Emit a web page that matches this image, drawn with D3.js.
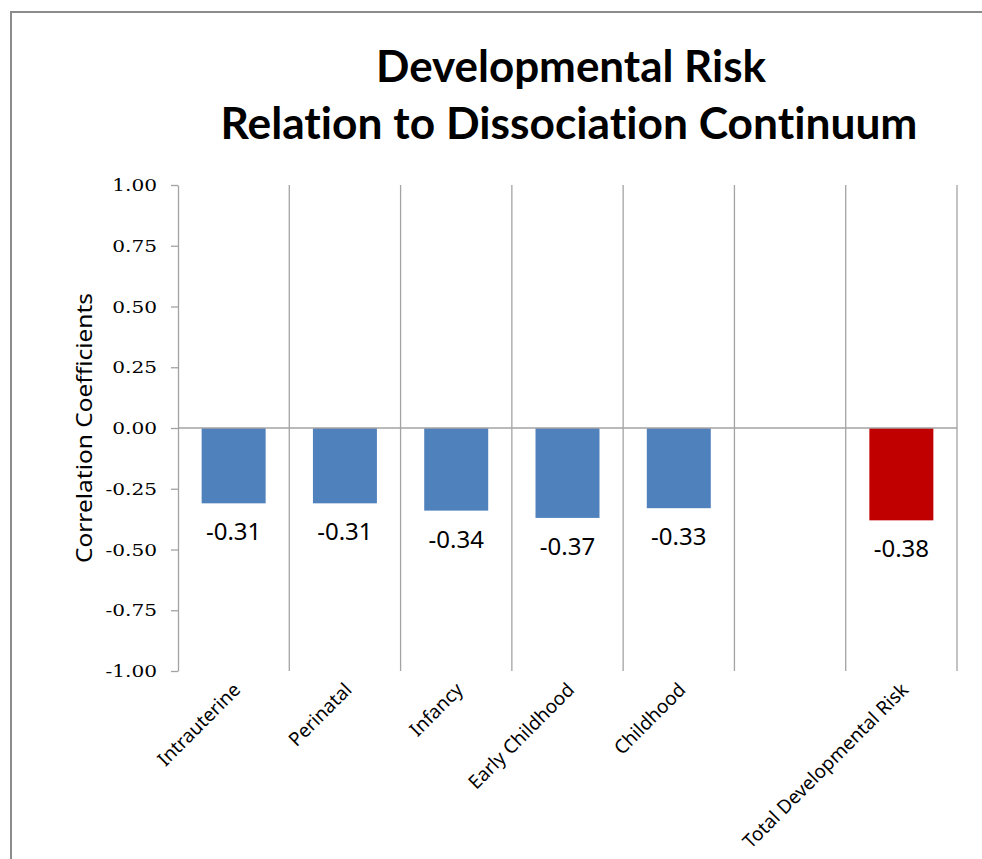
<!DOCTYPE html>
<html>
<head>
<meta charset="utf-8">
<script src="https://cdn.jsdelivr.net/npm/d3@7"></script>
<style>
  html, body { margin: 0; padding: 0; background: #fff; }
  svg { display: block; }
  text { font-variant-ligatures: none; }
</style>
</head>
<body>
<svg id="chart" width="982" height="859"></svg>
<script>
// Chart content
const titleLines = ["Developmental Risk", "Relation to Dissociation Continuum"];
const yAxisTitle = "Correlation Coefficients";
const categories = ["Intrauterine", "Perinatal", "Infancy", "Early Childhood", "Childhood", "", "Total Developmental Risk"];
const values = [-0.31, -0.31, -0.34, -0.37, -0.33, null, -0.38];
const barColors = ["#4f81bd", "#4f81bd", "#4f81bd", "#4f81bd", "#4f81bd", null, "#c00000"];
const yTicks = [1.00, 0.75, 0.50, 0.25, 0.00, -0.25, -0.50, -0.75, -1.00];

const svg = d3.select("#chart");
const fmt = d3.formatLocale({ decimal: ".", thousands: ",", grouping: [3], currency: ["", ""], minus: "-" }).format(".2f");
const sans = "'Noto Sans', 'Open Sans', sans-serif";

// outer frame of the chart area (runs past the right and bottom edges)
svg.append("rect")
  .attr("x", 11).attr("y", 12)
  .attr("width", 1000).attr("height", 900)
  .attr("fill", "none")
  .attr("stroke", "#8c8c8c")
  .attr("stroke-width", 2);

const plot = { left: 178, right: 957, top: 185, bottom: 671 };
const gridColor = "#a3a3a3";

const x = d3.scaleBand()
  .domain(d3.range(categories.length))
  .range([plot.left, plot.right])
  .paddingInner(0.425)
  .paddingOuter(0.2125);

const y = d3.scaleLinear()
  .domain([-1, 1])
  .range([plot.bottom, plot.top]);

// title
const title = svg.append("g")
  .attr("font-family", "Lato, 'Open Sans', sans-serif")
  .attr("font-weight", "bold")
  .attr("fill", "#000");
const titleSpecs = [
  { text: titleLines[0], cx: 571, baseline: 82, width: 390 },
  { text: titleLines[1], cx: 569, baseline: 139, width: 697 }
];
titleSpecs.forEach(t => {
  title.append("text")
    .attr("x", t.cx).attr("y", t.baseline)
    .attr("text-anchor", "middle")
    .attr("font-size", 44)
    .attr("textLength", t.width)
    .attr("lengthAdjust", "spacingAndGlyphs")
    .text(t.text);
});

// vertical grid lines at category boundaries
const step = x.step();
const bounds = d3.range(categories.length + 1).map(i => plot.left + i * step);
svg.append("g")
  .selectAll("line")
  .data(bounds.slice(1))
  .join("line")
  .attr("x1", d => d).attr("x2", d => d)
  .attr("y1", plot.top).attr("y2", plot.bottom)
  .attr("stroke", gridColor)
  .attr("stroke-width", 1.3);

// bars
svg.append("g")
  .selectAll("rect")
  .data(values.map((v, i) => ({ v, i })).filter(d => d.v !== null))
  .join("rect")
  .attr("x", d => x(d.i))
  .attr("width", x.bandwidth())
  .attr("y", d => y(Math.max(0, d.v)))
  .attr("height", d => Math.abs(y(d.v) - y(0)))
  .attr("fill", d => barColors[d.i]);

// zero line
svg.append("line")
  .attr("x1", plot.left).attr("x2", plot.right)
  .attr("y1", y(0)).attr("y2", y(0))
  .attr("stroke", gridColor)
  .attr("stroke-width", 1.3);

// y axis
const yAxis = svg.append("g")
  .attr("transform", `translate(${plot.left},0)`)
  .call(d3.axisLeft(y).tickValues(yTicks).tickFormat(fmt).tickSize(7).tickSizeOuter(0).tickPadding(14));
yAxis.select(".domain").attr("stroke", gridColor).attr("stroke-width", 1.3);
yAxis.selectAll(".tick line").attr("stroke", gridColor).attr("stroke-width", 1.3);
yAxis.selectAll(".tick text")
  .attr("font-family", "'DejaVu Serif', serif")
  .attr("font-size", 17.5)
  .attr("fill", "#000")
  .each(function () {
    const natural = this.getComputedTextLength();
    d3.select(this).attr("textLength", natural * 1.15).attr("lengthAdjust", "spacingAndGlyphs");
  });

// y axis title
svg.append("text")
  .attr("transform", `translate(92,${y(0)}) rotate(-90)`)
  .attr("text-anchor", "middle")
  .attr("font-family", sans)
  .attr("font-size", 22)
  .attr("textLength", 270)
  .attr("lengthAdjust", "spacingAndGlyphs")
  .attr("fill", "#000")
  .text(yAxisTitle);

// value labels below bars
svg.append("g")
  .selectAll("text")
  .data(values.map((v, i) => ({ v, i })).filter(d => d.v !== null))
  .join("text")
  .attr("x", d => x(d.i) + x.bandwidth() / 2)
  .attr("y", d => y(d.v) + 37)
  .attr("text-anchor", "middle")
  .attr("font-family", sans)
  .attr("font-size", 24)
  .attr("fill", "#000")
  .text(d => fmt(d.v));

// rotated category labels
svg.append("g")
  .selectAll("text")
  .data(categories.map((c, i) => ({ c, i })).filter(d => d.c !== ""))
  .join("text")
  .attr("transform", d => `translate(${x(d.i) + x.bandwidth() / 2 + 8},${plot.bottom + 20}) rotate(-45)`)
  .attr("text-anchor", "end")
  .attr("font-family", sans)
  .attr("font-size", 19)
  .attr("fill", "#000")
  .text(d => d.c);
</script>
</body>
</html>
